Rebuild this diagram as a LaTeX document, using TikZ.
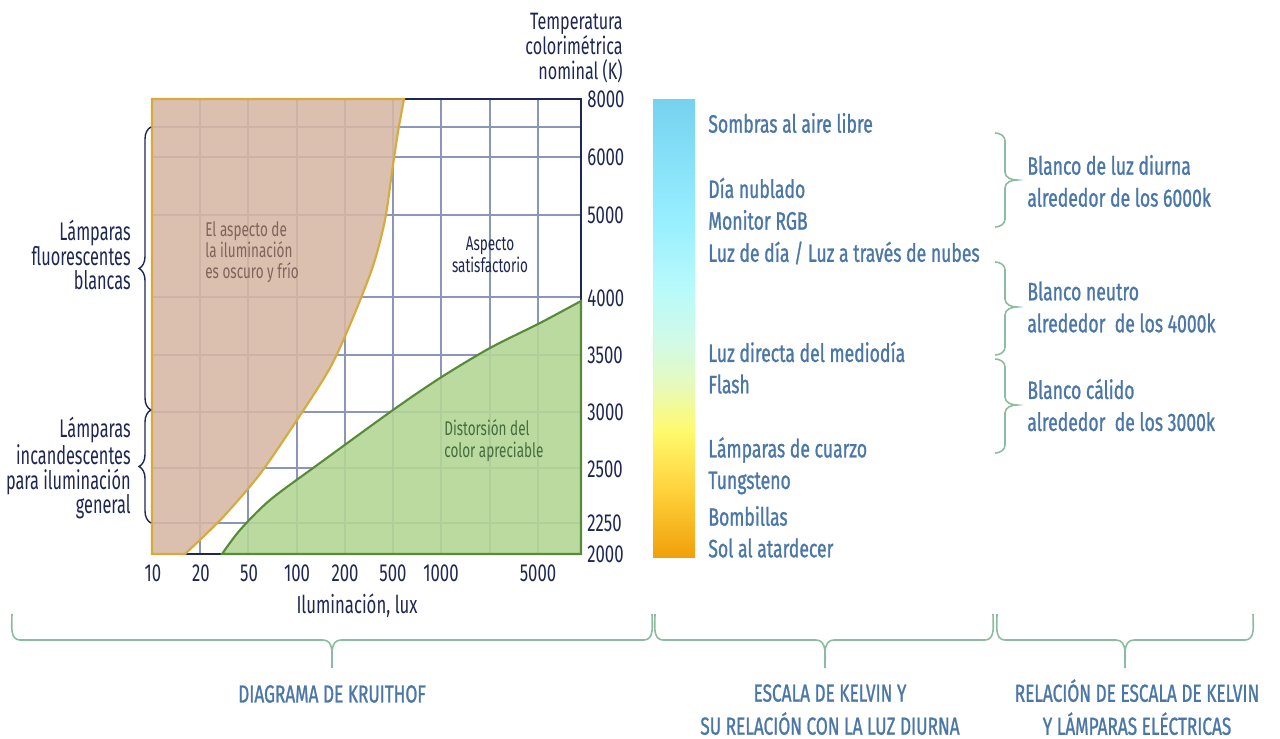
\documentclass[tikz,border=0pt]{standalone}
\usepackage{fontspec}
\setmainfont{Fira Sans}[FakeStretch=0.68]
\newfontfamily\sidefont{Fira Sans}[FakeStretch=0.64]
\newfontfamily\kelvinfont{Fira Sans}[FakeStretch=0.7, FakeBold=1]
\usetikzlibrary{decorations.pathreplacing}

\definecolor{chartnavy}{RGB}{30,38,82}
\definecolor{gridblue}{RGB}{140,150,182}
\definecolor{warmfill}{RGB}{214,182,164}
\definecolor{warmline}{RGB}{215,170,60}
\definecolor{warmtext}{RGB}{128,100,92}
\definecolor{distfill}{RGB}{178,214,150}
\definecolor{distline}{RGB}{88,138,58}
\definecolor{disttext}{RGB}{70,108,62}
\definecolor{scaleblue}{RGB}{74,118,168}
\definecolor{bracegreen}{RGB}{140,188,160}
\definecolor{k0}{RGB}{240,160,10}
\definecolor{k1}{RGB}{255,210,60}
\definecolor{k2}{RGB}{255,250,110}
\definecolor{k3}{RGB}{230,250,190}
\definecolor{k4}{RGB}{210,250,230}
\definecolor{k5}{RGB}{185,250,250}
\definecolor{k6}{RGB}{150,238,255}
\definecolor{k7}{RGB}{118,210,240}

\pgfdeclareverticalshading{kelvinbar}{100bp}{color(0bp)=(k0); color(25bp)=(k0);
  color(32.3bp)=(k1); color(38.9bp)=(k2); color(44bp)=(k3); color(48.4bp)=(k4);
  color(54.2bp)=(k5); color(62.2bp)=(k6); color(75bp)=(k7); color(100bp)=(k7)}

\begin{document}
\begin{tikzpicture}[
        x=0.02cm,
        y=-0.02cm,
        chartlabel/.style={font=\fontsize{14}{14.2}\selectfont, text=chartnavy, inner sep=0pt},
        sidelabel/.style={font=\sidefont\fontsize{14.5}{14.2}\selectfont, text=chartnavy, inner sep=0pt, anchor=east, align=right},
        regionlabel/.style={font=\fontsize{11.3}{11.8}\selectfont, inner sep=0pt},
        kelvintext/.style={font=\kelvinfont\fontsize{14.3}{18.2}\selectfont, text=scaleblue, inner sep=0pt, anchor=west},
        caption/.style={font=\kelvinfont\fontsize{14}{18.8}\selectfont, text=scaleblue, inner sep=0pt, align=center},
        gridline/.style={draw=gridblue, line width=0.9pt},
        chartbrace/.style={draw=chartnavy, line width=0.8pt, decorate, decoration={brace, amplitude=0.24cm}},
        kbrace/.style={draw=bracegreen, line width=0.9pt},
    ]
    \useasboundingbox (0,0) rectangle (1280,739);

    \foreach \xpos in {200,248,297,345,393,441,490,538}
        \draw[gridline] (\xpos,99) -- (\xpos,554);
    \foreach \ypos in {127,157,215,297,355,412,468,523}
        \draw[gridline] (152,\ypos) -- (581,\ypos);
    \draw[chartnavy, line width=1.3pt] (152,99) rectangle (581,554);

    \filldraw[fill=warmfill, fill opacity=0.88, draw=warmline, line width=1.2pt]
        (152,554) -- (152,99) -- (404,99)
        -- plot[smooth] coordinates {(404,99) (398,132) (392,172) (385,220) (373,266)
            (352,320) (330,368) (297,420) (260,474) (225,515) (203,537) (185,554)}
        -- cycle;
    \filldraw[fill=distfill, fill opacity=0.9, draw=distline, line width=1.2pt]
        (222,554)
        -- plot[smooth] coordinates {(222,554) (240,530) (270,500) (320,463)
            (393,410) (440,378) (490,348) (540,323) (581,301)}
        -- (581,554) -- cycle;

    \node[chartlabel, anchor=north east, align=right, font=\fontsize{13.5}{14.2}\selectfont] (ktitle) at (623,13)
        {Temperatura\\colorimétrica\\nominal (K)};
    \foreach \val/\ypos in {8000/99,6000/157,5000/215,4000/298,3500/355,3000/412,2500/469,2250/523,2000/554}
        \node[chartlabel, anchor=west] (k\val) at (587,\ypos) {\val};
    \foreach \val/\xpos in {10/153,20/201,50/249,100/297,200/345,500/393,1000/441,5000/538}
        \node[chartlabel, anchor=north] (lux\val) at (\xpos,564) {\val};
    \node[chartlabel] (luxtitle) at (357,606) {Iluminación, lux};

    \node[regionlabel, text=warmtext, align=left, anchor=west] (oscuro) at (205,252)
        {El aspecto de\\la iluminación\\es oscuro y frío};
    \node[regionlabel, text=chartnavy, align=center, font=\fontsize{11.3}{12.4}\selectfont] (satisf) at (490,255)
        {Aspecto\\satisfactorio};
    \node[regionlabel, text=disttext, align=left, anchor=west, font=\fontsize{11.3}{12.4}\selectfont] (distor) at (444,441)
        {Distorsión del\\color apreciable};

    \coordinate (fluoA) at (151,410);
    \coordinate (fluoB) at (151,127);
    \coordinate (incaA) at (151,523);
    \coordinate (incaB) at (151,410);
    \draw[chartbrace] (fluoA) -- (fluoB);
    \draw[chartbrace] (incaA) -- (incaB);
    \node[sidelabel] (fluo) at (131,255) {Lámparas\\fluorescentes\\blancas};
    \node[sidelabel] (inca) at (131,468) {Lámparas\\incandescentes\\para iluminación\\general};

    \shade[shading=kelvinbar] (653,100) rectangle (695,557);
    \node[kelvintext] (sombras) at (708,123) {Sombras al aire libre};
    \node[kelvintext] (nublado) at (708,188) {Día nublado};
    \node[kelvintext] (monitor) at (708,220) {Monitor RGB};
    \node[kelvintext] (luzdia) at (708,253) {Luz de día / Luz a través de nubes};
    \node[kelvintext] (mediodia) at (708,352) {Luz directa del mediodía};
    \node[kelvintext] (flash) at (708,384) {Flash};
    \node[kelvintext] (cuarzo) at (708,450) {Lámparas de cuarzo};
    \node[kelvintext] (tungsteno) at (708,483) {Tungsteno};
    \node[kelvintext] (bombillas) at (708,516) {Bombillas};
    \node[kelvintext] (atardecer) at (708,548) {Sol al atardecer};

    \foreach \ya/\ym/\yb in {133/180/227, 262/307/355, 359/405/453}
        \draw[kbrace] (995,\ya) to[out=0,in=90] (1005,\ya+8) -- (1005,\ym-8)
            to[out=-90,in=180] (1017,\ym) to[out=180,in=90] (1005,\ym+8)
            -- (1005,\yb-8) to[out=-90,in=0] (995,\yb);
    \node[kelvintext, align=left] (diurna) at (1027,181) {Blanco de luz diurna\\alrededor de los 6000k};
    \node[kelvintext, align=left] (neutro) at (1027,307) {Blanco neutro\\alrededor\ \ de los 4000k};
    \node[kelvintext, align=left] (calido) at (1027,405) {Blanco cálido\\alrededor\ \ de los 3000k};

    \foreach \xa/\xm/\xb in {12/332/652, 655/825/993, 997/1125/1253}
        \draw[kbrace] (\xa,614) to[out=-90,in=180] (\xa+8,640) -- (\xm-9,640)
            to[out=0,in=90] (\xm,668) to[out=90,in=180] (\xm+9,640)
            -- (\xb-8,640) to[out=0,in=-90] (\xb,614);
    \node[caption] (kruithof) at (332,694) {DIAGRAMA DE KRUITHOF};
    \node[caption, anchor=north] (escala) at (830,684) {ESCALA DE KELVIN Y\\SU RELACIÓN CON LA LUZ DIURNA};
    \node[caption, anchor=north] (relacion) at (1137,679) {RELACIÓN DE ESCALA DE KELVIN\\Y LÁMPARAS ELÉCTRICAS};
\end{tikzpicture}
\end{document}
